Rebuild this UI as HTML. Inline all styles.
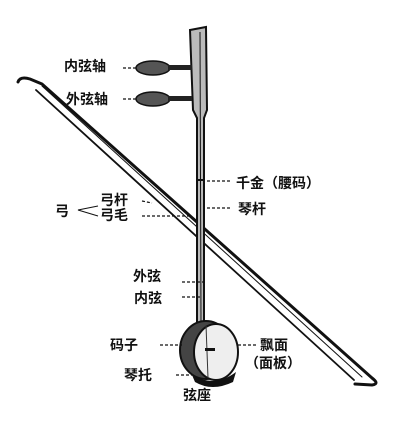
<!DOCTYPE html>
<html><head><meta charset="utf-8"><style>
html,body{margin:0;padding:0;background:#fff;}
svg{display:block}
text{font-family:"Liberation Sans","Noto Sans CJK SC",sans-serif;font-size:14px;font-weight:bold;fill:#111;}
</style></head><body>
<svg width="405" height="443" viewBox="0 0 405 443">
<rect width="405" height="443" fill="#fff"/>
<g fill="none" stroke="#111" stroke-linecap="round">
<path d="M18,82 Q20,76 30,79 L42,84 L372,378 Q380,384 372,385 L355,384" stroke-width="3"/>
<path d="M36,90 L354,380" stroke-width="1.8"/>
<path d="M42,86 L362,377" stroke-width="1"/>
</g>
<g>
<path d="M190,30 L206,27 L207,110 L204,118 L204,325 L197,325 L197,118 L193,110 Z" fill="#bbb" stroke="#111" stroke-width="2"/>
<line x1="200" y1="32" x2="201" y2="325" stroke="#111" stroke-width="1"/>
<line x1="197" y1="180" x2="204" y2="180" stroke="#111" stroke-width="2"/>
</g>
<g>
<ellipse cx="153" cy="68" rx="17" ry="7" fill="#555" stroke="#111" stroke-width="1.5"/>
<rect x="168" y="65" width="24" height="5" fill="#222"/>
</g>
<g>
<ellipse cx="153" cy="99" rx="17" ry="7" fill="#555" stroke="#111" stroke-width="1.5"/>
<rect x="168" y="96" width="24" height="5" fill="#222"/>
</g>
<g>
<ellipse cx="206" cy="350" rx="26" ry="29" fill="#444" stroke="#111" stroke-width="2"/>
<ellipse cx="216" cy="352" rx="22" ry="28" fill="#eee" stroke="#111" stroke-width="2"/>
<path d="M192,375 Q215,388 236,372 L233,382 Q212,392 195,382 Z" fill="#111"/>
<line x1="206" y1="325" x2="208" y2="378" stroke="#333" stroke-width="1"/>
<rect x="205" y="348" width="10" height="3" fill="#111"/>
</g>
<g stroke="#111" stroke-width="1.2" stroke-dasharray="3,2" fill="none">
<line x1="123" y1="68" x2="137" y2="68"/>
<line x1="123" y1="99" x2="137" y2="99"/>
<line x1="207" y1="181" x2="232" y2="181"/>
<line x1="207" y1="208" x2="232" y2="208"/>
<line x1="142" y1="201" x2="152" y2="203"/>
<line x1="142" y1="216" x2="190" y2="216"/>
<line x1="182" y1="282" x2="207" y2="282"/>
<line x1="182" y1="297" x2="202" y2="297"/>
<line x1="160" y1="345" x2="182" y2="345"/>
<line x1="238" y1="345" x2="256" y2="345"/>
<line x1="176" y1="375" x2="192" y2="375"/>
</g>
<path d="M98,206 L78,210 L98,216" fill="none" stroke="#111" stroke-width="1"/>
<g>
<text x="64" y="71">内弦轴</text>
<text x="66" y="104">外弦轴</text>
<text x="236" y="188">千金（腰码）</text>
<text x="238" y="214">琴杆</text>
<text x="55" y="216">弓</text>
<text x="100" y="205">弓杆</text>
<text x="100" y="220">弓毛</text>
<text x="133" y="281">外弦</text>
<text x="134" y="303">内弦</text>
<text x="110" y="350">码子</text>
<text x="260" y="350">飘面</text>
<text x="245" y="368">（面板）</text>
<text x="124" y="380">琴托</text>
<text x="183" y="400">弦座</text>
</g>
</svg>
</body></html>
